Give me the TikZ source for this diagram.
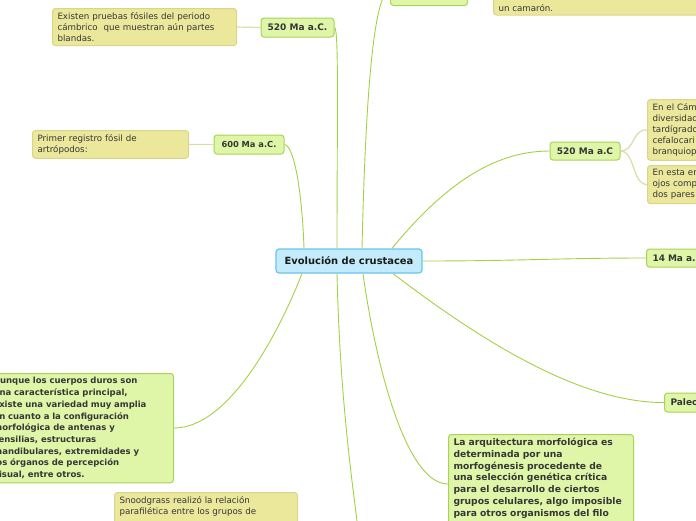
\documentclass[tikz,border=0pt]{standalone}
\usepackage{fontspec}
\setmainfont{DejaVu Sans}
\usetikzlibrary{calc,backgrounds}
\definecolor{cBlue}{HTML}{C3EBFB}
\definecolor{cBlueB}{HTML}{6CC3EC}
\definecolor{cGreen}{HTML}{DFF6A8}
\definecolor{cGreenB}{HTML}{A9D257}
\definecolor{cYel}{HTML}{EBE89C}
\definecolor{cYelB}{HTML}{D9D58A}
\definecolor{cLine}{HTML}{A6CF45}
\definecolor{cLineB}{HTML}{DCDCA8}
\definecolor{cTxt}{HTML}{363636}
\begin{document}
\begin{tikzpicture}[x=1pt,y=-1pt,
 central/.style={draw=cBlueB, fill=cBlue, line width=1.2pt, rounded corners=3pt, font=\fontsize{9.9}{11}\selectfont\bfseries, text=black!90, minimum width=146pt, minimum height=24pt, inner sep=0pt},
 topic/.style={draw=cGreenB, fill=cGreen, line width=1pt, rounded corners=3pt, text=cTxt, inner sep=0pt},
 bignote/.style={draw=cGreenB, fill=cGreen, line width=1pt, rounded corners=3pt, text=cTxt, font=\fontsize{8.8}{11.7}\selectfont\bfseries, align=left, inner xsep=5pt, inner ysep=4pt},
 note/.style={draw=cYelB, fill=cYel, line width=1pt, rounded corners=3pt, text=cTxt, font=\fontsize{8.7}{11}\selectfont, align=left, inner xsep=5pt, inner ysep=4pt},
 link/.style={draw=cLine, line width=0.9pt},
 sublink/.style={draw=cLineB, line width=1.2pt}]

\useasboundingbox (0,0) rectangle (696,520);

% central
\node[central] (c) at (349,261) {Evolución de crustacea};

% topics
\node[topic, minimum width=73pt, minimum height=19pt, font=\fontsize{9}{10}\selectfont\bfseries] (a520) at (297.5,27.5) {520 Ma a.C.};
\node[topic, minimum width=70pt, minimum height=19pt, font=\fontsize{8.3}{9}\selectfont\bfseries] (a600) at (249,144.5) {600 Ma a.C.};
\node[topic, minimum width=70pt, minimum height=18pt, font=\fontsize{9}{11}\selectfont\bfseries] (r520) at (585,151) {520 Ma a.C};
\node[topic, anchor=west, minimum height=18pt, text width=80pt, inner xsep=6pt, align=left, font=\fontsize{9}{11}\selectfont\bfseries] (m14) at (646,258) {14 Ma a.};
\node[topic, anchor=west, minimum height=19pt, text width=80pt, inner xsep=6pt, align=left, font=\fontsize{9}{11}\selectfont\bfseries] (paleo) at (664,402.5) {Paleo};
\node[topic, anchor=south west, minimum width=77pt, minimum height=30pt] (tbox) at (390,6) {};

% notes
\node[note, anchor=north west, text width=174pt] (n1) at (52,8) {Existen pruebas fósiles del periodo\\cámbrico\ \ que muestran aún partes\\blandas.};
\node[note, anchor=north west, text width=146pt] (n2) at (32,130) {Primer registro fósil de\\artrópodos:};
\node[note, anchor=north west, text width=100pt] (n3) at (647,99) {En el Cám\\diversidad\\tardígrado\\cefalocari\\branquiop};
\node[note, anchor=north west, text width=100pt] (n4) at (647,165) {En esta er\\ojos comp\\dos pares};
\node[note, anchor=south west, inner ysep=3pt] (n5) at (493,15.5) {\parbox[b][30pt][b]{250pt}{un camarón.}};
\node[note, anchor=north west, text width=173pt] (snood) at (114,492) {Snoodgrass realizó la relación\\parafilética entre los grupos de\par\vspace*{30pt}};

\node[bignote, anchor=north west, text width=175pt, font=\fontsize{8.5}{11.7}\selectfont\bfseries] (aun) at (-12,373) {Aunque los cuerpos duros son\\una característica principal,\\existe una variedad muy amplia\\en cuanto a la configuración\\morfológica de antenas y\\sensilias, estructuras\\mandibulares, extremidades y\\los órganos de percepción\\visual, entre otros.};
\node[bignote, anchor=north west, text width=175pt, font=\fontsize{9.2}{11.7}\selectfont\bfseries] (arq) at (448,434) {La arquitectura morfológica es\\determinada por una\\morfogénesis procedente de\\una selección genética crítica\\para el desarrollo de ciertos\\grupos celulares, algo imposible\\para otros organismos del filo\par\vspace*{30pt}};

\coordinate (bot) at (360,545);

\begin{scope}[on background layer]
\draw[link] ([xshift=-12pt]c.north) .. controls (337,120) and (339,28) .. (a520.east);
\draw[link] ([xshift=-45pt]c.north) .. controls (302,190) and (294,146) .. (a600.east);
\draw[link] ([xshift=13pt]c.north) .. controls (365,120) and (372,-9) .. (tbox.west);
\draw[link] ([xshift=43pt]c.north) .. controls (440,190) and (490,151) .. (r520.west);
\draw[link] (c.east) .. controls (520,261) and (560,258) .. (m14.west);
\draw[link] ([xshift=44pt]c.south) .. controls (480,340) and (580,403) .. (paleo.west);
\draw[link] ([xshift=14pt]c.south) .. controls (375,360) and (405,484) .. ([yshift=-50pt]arq.north west);
\draw[link] ([xshift=-12pt]c.south) .. controls (340,400) and (352,480) .. (bot);
\draw[link] ([xshift=-47pt]c.south) .. controls (280,330) and (230,428) .. ([yshift=-55pt]aun.north east);
\draw[sublink] (a520.west) -- (n1.east);
\draw[sublink] (a600.west) -- (n2.east);
\draw[sublink] (r520.east) .. controls (635,151) and (632,129) .. (n3.west);
\draw[sublink] (r520.east) .. controls (635,151) and (632,184) .. (n4.west);
\end{scope}
\end{tikzpicture}
\end{document}
